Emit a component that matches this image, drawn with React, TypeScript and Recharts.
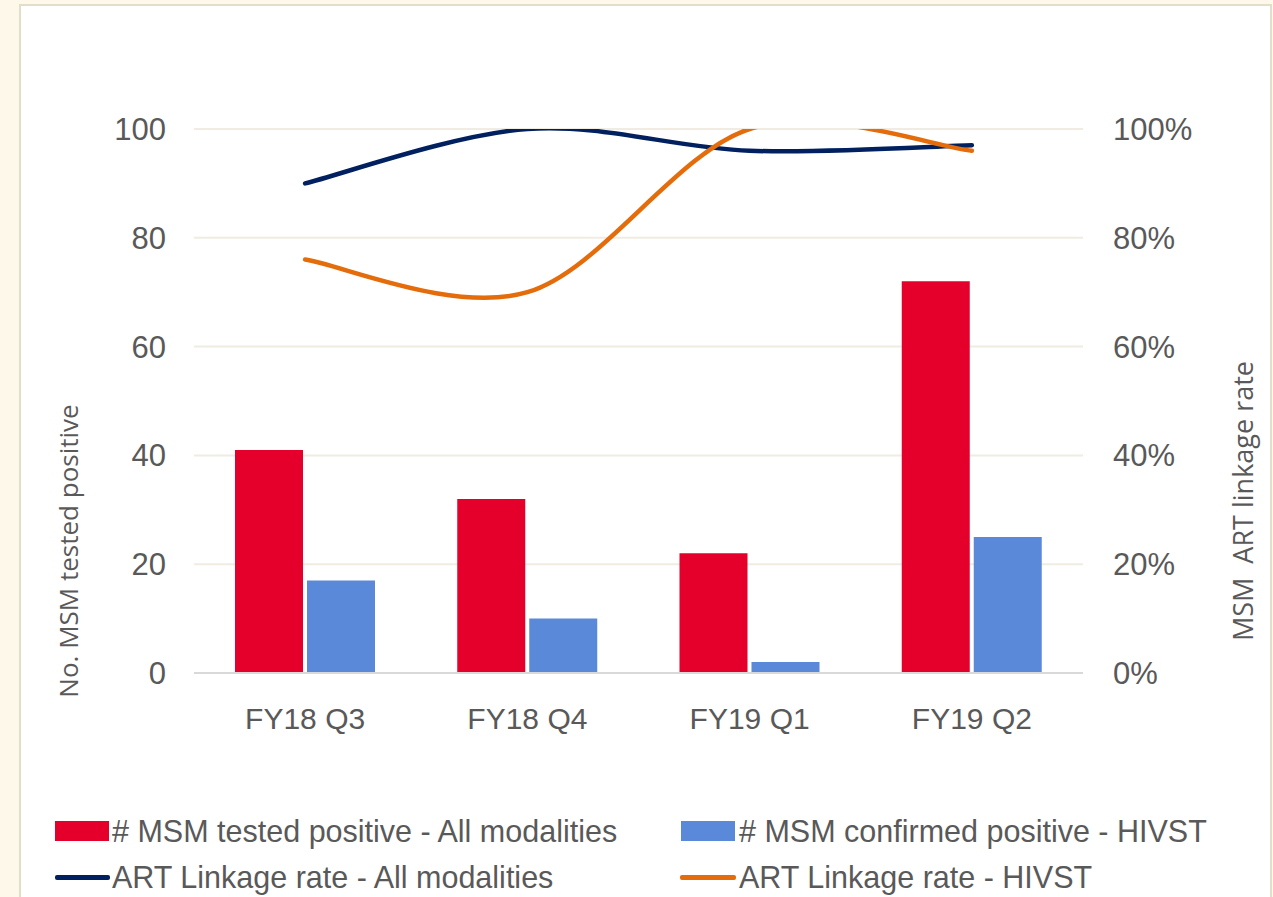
import React from 'react';
import { ComposedChart, Bar, Line, XAxis, YAxis, CartesianGrid } from 'recharts';

const categories = ['FY18 Q3', 'FY18 Q4', 'FY19 Q1', 'FY19 Q2'];
const testedPositiveAll = [41, 32, 22, 72];
const confirmedPositiveHivst = [17, 10, 2, 25];
const linkageAll = [0.9, 1.0, 0.96, 0.97];
const linkageHivst = [0.76, 0.7, 1.0, 0.96];
const leftTicks = [0, 20, 40, 60, 80, 100];
const rightTicks = [0, 0.2, 0.4, 0.6, 0.8, 1];
const seriesNames = [
  '# MSM tested positive - All modalities',
  '# MSM confirmed positive - HIVST',
  'ART Linkage rate - All modalities',
  'ART Linkage rate - HIVST',
];
const leftTitle = 'No. MSM tested positive';
const rightTitle = 'MSM\u00a0\u00a0ART linkage rate';

const RED = '#E4002B';
const BLUE = '#5B89DA';
const NAVY = '#002060';
const ORANGE = '#E46C0A';
const TEXT = '#595959';
const TICK_FONT = '"Liberation Sans", Arial, sans-serif';
const TITLE_FONT = '"Open Sans", "Noto Sans", sans-serif';

const data = categories.map((c, i) => ({
  name: c,
  all: testedPositiveAll[i],
  hivst: confirmedPositiveHivst[i],
  rateAll: linkageAll[i],
  rateHivst: linkageHivst[i],
}));

// Excel-like smoothed line (Catmull-Rom style Bezier)
const excelCurve = (context: any) => {
  let pts: number[][] = [];
  return {
    areaStart() {},
    areaEnd() {},
    lineStart() {
      pts = [];
    },
    point(x: number, y: number) {
      pts.push([+x, +y]);
    },
    lineEnd() {
      if (!pts.length) return;
      context.moveTo(pts[0][0], pts[0][1]);
      for (let i = 0; i < pts.length - 1; i++) {
        const p0 = pts[i - 1] || pts[i];
        const p1 = pts[i];
        const p2 = pts[i + 1];
        const p3 = pts[i + 2] || pts[i + 1];
        const c1x = p1[0] + (p2[0] - p0[0]) / 6;
        const c1y = p1[1] + (p2[1] - p0[1]) / 6;
        const c2x = p2[0] - (p3[0] - p1[0]) / 6;
        const c2y = p2[1] - (p3[1] - p1[1]) / 6;
        context.bezierCurveTo(c1x, c1y, c2x, c2y, p2[0], p2[1]);
      }
    },
  };
};

const legendText: React.CSSProperties = {
  position: 'absolute',
  fontFamily: TICK_FONT,
  fontSize: 30.5,
  color: TEXT,
  lineHeight: '34px',
  height: 34,
  whiteSpace: 'nowrap',
};

export default function App() {
  return (
    <div
      style={{
        position: 'absolute',
        left: 0,
        top: 0,
        width: 1273,
        height: 897,
        background: '#FDF8EA',
        overflow: 'hidden',
      }}
    >
      <div
        style={{
          position: 'absolute',
          left: 19,
          top: 4,
          width: 1253,
          height: 1000,
          background: '#FFFFFF',
          border: '2px solid #E3DECA',
          boxSizing: 'border-box',
        }}
      />
      <div style={{ position: 'absolute', left: 0, top: 0 }}>
        <ComposedChart
          width={1273}
          height={897}
          data={data}
          margin={{ top: 129, right: 0, bottom: 164, left: 0 }}
          barCategoryGap={41}
          barGap={4}
        >
          <CartesianGrid vertical={false} stroke="#F0ECE1" strokeWidth={2} yAxisId="left" />
          <XAxis
            dataKey="name"
            height={60}
            tickLine={false}
            axisLine={{ stroke: '#D9D9D9', strokeWidth: 2 }}
            tickMargin={29}
            tick={{ fill: TEXT, fontSize: 30, fontFamily: TICK_FONT }}
          />
          <YAxis
            yAxisId="left"
            width={194}
            domain={[0, 100]}
            ticks={leftTicks}
            axisLine={false}
            tickLine={false}
            tickSize={0}
            tickMargin={28}
            tick={{ fill: TEXT, fontSize: 31, fontFamily: TICK_FONT }}
          />
          <YAxis
            yAxisId="right"
            orientation="right"
            width={190}
            domain={[0, 1]}
            ticks={rightTicks}
            allowDataOverflow
            axisLine={false}
            tickLine={false}
            tickSize={0}
            tickMargin={30}
            tickFormatter={(v: number) => `${Math.round(v * 100)}%`}
            tick={{ fill: TEXT, fontSize: 31, fontFamily: TICK_FONT }}
          />
          <Bar yAxisId="left" dataKey="all" name={seriesNames[0]} fill={RED} isAnimationActive={false} />
          <Bar yAxisId="left" dataKey="hivst" name={seriesNames[1]} fill={BLUE} isAnimationActive={false} />
          <Line
            yAxisId="right"
            dataKey="rateAll"
            name={seriesNames[2]}
            type={excelCurve as any}
            stroke={NAVY}
            strokeWidth={4.5}
            strokeLinecap="round"
            dot={false}
            activeDot={false}
            isAnimationActive={false}
          />
          <Line
            yAxisId="right"
            dataKey="rateHivst"
            name={seriesNames[3]}
            type={excelCurve as any}
            stroke={ORANGE}
            strokeWidth={4.5}
            strokeLinecap="round"
            dot={false}
            activeDot={false}
            isAnimationActive={false}
          />
        </ComposedChart>
      </div>
      {/* Axis titles */}
      <svg
        width={1273}
        height={897}
        style={{ position: 'absolute', left: 0, top: 0, pointerEvents: 'none' }}
      >
        <text
          x={78}
          y={551}
          transform="rotate(-90, 78, 551)"
          textAnchor="middle"
          fill={TEXT}
          style={{ fontFamily: TITLE_FONT, fontSize: 26 }}
        >
          {leftTitle}
        </text>
        <text
          x={1253}
          y={501}
          transform="rotate(-90, 1253, 501)"
          textAnchor="middle"
          fill={TEXT}
          style={{ fontFamily: TITLE_FONT, fontSize: 27 }}
        >
          {rightTitle}
        </text>
      </svg>
      {/* Legend */}
      <div style={{ position: 'absolute', left: 55, top: 821, width: 54, height: 20, background: RED }} />
      <div style={{ ...legendText, left: 112, top: 814 }}>{seriesNames[0]}</div>
      <div style={{ position: 'absolute', left: 681, top: 821, width: 54, height: 20, background: BLUE }} />
      <div style={{ ...legendText, left: 739, top: 814 }}>{seriesNames[1]}</div>
      <div style={{ position: 'absolute', left: 55, top: 875, width: 55, height: 4.5, borderRadius: 2, background: NAVY }} />
      <div style={{ ...legendText, left: 112, top: 860 }}>{seriesNames[2]}</div>
      <div style={{ position: 'absolute', left: 680, top: 875, width: 56, height: 4.5, borderRadius: 2, background: ORANGE }} />
      <div style={{ ...legendText, left: 739, top: 860 }}>{seriesNames[3]}</div>
    </div>
  );
}
